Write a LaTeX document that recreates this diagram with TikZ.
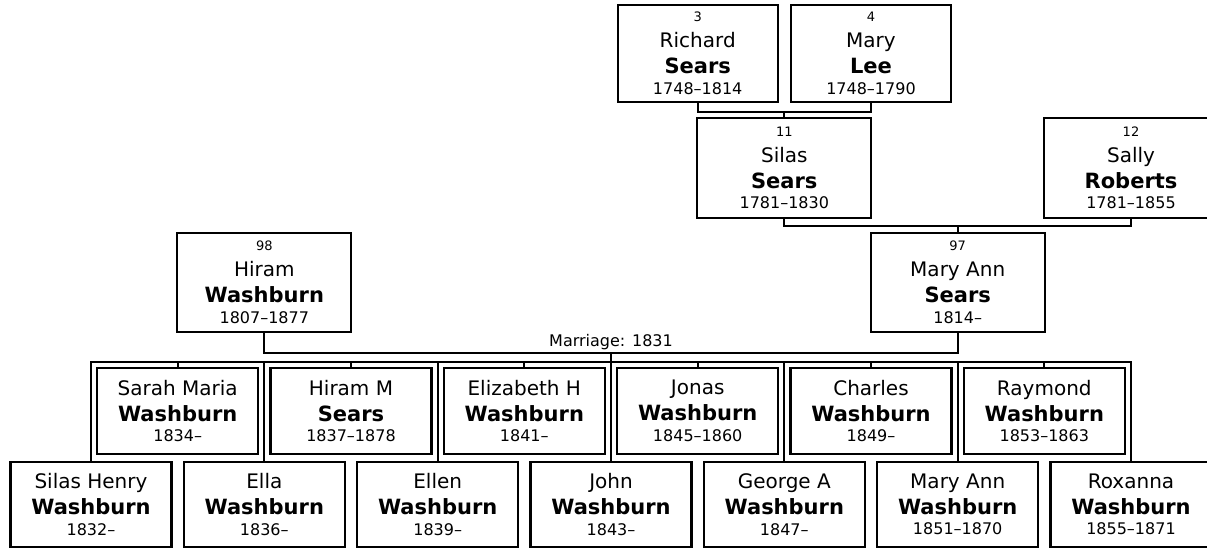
\documentclass[tikz,border=0pt]{standalone}
\usepackage{fontspec}
\setmainfont{DejaVu Sans}
\newcommand{\idno}[1]{{\fontsize{13}{13}\selectfont #1}}
\newcommand{\life}[1]{{\fontsize{16}{16}\selectfont #1}}
\newcommand{\sname}[1]{{\fontsize{21}{21}\selectfont\bfseries #1}}

\begin{document}
\begin{tikzpicture}[x=1pt,y=-1pt,font=\fontsize{20}{26}\selectfont,
 anc/.style={draw,line width=2.2pt,fill=white,align=center,inner sep=0pt,minimum width=174,minimum height=99},
 kid/.style={draw,line width=2.2pt,fill=white,align=center,inner sep=0pt,minimum width=161,minimum height=86},
 link/.style={line width=2.2pt}]
\path[use as bounding box,fill=white] (0,0) rectangle (1207,548);
% ancestors
\node[anc,minimum width=160,minimum height=97] (rich) at (697.7,53.5) {\idno{3}\\Richard\\\sname{Sears}\\[-5.5pt]\life{1748--1814}};
\node[anc,minimum width=160,minimum height=97] (lee) at (871,53.5) {\idno{4}\\Mary\\\sname{Lee}\\[-5.5pt]\life{1748--1790}};
\node[anc,minimum height=100] (silas) at (784.3,168) {\idno{11}\\Silas\\\sname{Sears}\\[-5.5pt]\life{1781--1830}};
\node[anc,minimum height=100] (sally) at (1131,168) {\idno{12}\\Sally\\\sname{Roberts}\\[-5.5pt]\life{1781--1855}};
\node[anc] (hiram) at (264.3,282.5) {\idno{98}\\Hiram\\\sname{Washburn}\\[-5.5pt]\life{1807--1877}};
\node[anc] (mann) at (957.7,282.5) {\idno{97}\\Mary Ann\\\sname{Sears}\\[-5.5pt]\life{1814--}};
% children, upper row
\node[kid] (sara) at (177.7,411) {Sarah Maria\\\sname{Washburn}\\[-5.5pt]\life{1834--}};
\node[kid] (hirm) at (351,411) {Hiram M\\\sname{Sears}\\[-5.5pt]\life{1837--1878}};
\node[kid] (eliz) at (524.3,411) {Elizabeth H\\\sname{Washburn}\\[-5.5pt]\life{1841--}};
\node[kid] (jona) at (697.7,411) {Jonas\\\sname{Washburn}\\[-5.5pt]\life{1845--1860}};
\node[kid] (char) at (871,411) {Charles\\\sname{Washburn}\\[-5.5pt]\life{1849--}};
\node[kid] (raym) at (1044.3,411) {Raymond\\\sname{Washburn}\\[-5.5pt]\life{1853--1863}};
% children, lower row
\node[kid,minimum height=85] (sil2) at (91,504.5) {Silas Henry\\\sname{Washburn}\\[-5.5pt]\life{1832--}};
\node[kid,minimum height=85] (ella) at (264.3,504.5) {Ella\\\sname{Washburn}\\[-5.5pt]\life{1836--}};
\node[kid,minimum height=85] (elln) at (437.7,504.5) {Ellen\\\sname{Washburn}\\[-5.5pt]\life{1839--}};
\node[kid,minimum height=85] (john) at (611,504.5) {John\\\sname{Washburn}\\[-5.5pt]\life{1843--}};
\node[kid,minimum height=85] (geor) at (784.3,504.5) {George A\\\sname{Washburn}\\[-5.5pt]\life{1847--}};
\node[kid,minimum height=85] (marw) at (957.7,504.5) {Mary Ann\\\sname{Washburn}\\[-5.5pt]\life{1851--1870}};
\node[kid,minimum height=85] (roxa) at (1131,504.5) {Roxanna\\\sname{Washburn}\\[-5.5pt]\life{1855--1871}};
% connectors
\coordinate (m1) at (silas.north |- 0,112);
\coordinate (m2) at (mann.north |- 0,225.7);
\coordinate (wed) at (john.north |- 0,353);
\coordinate (bus) at (john.north |- 0,362);
\draw[link] (rich.south) |- (m1) -| (lee.south);
\draw[link] (m1) -- (silas.north);
\draw[link] (silas.south) |- (m2) -| (sally.south);
\draw[link] (m2) -- (mann.north);
\draw[link] (hiram.south) |- (wed) -| (mann.south);
\node[anchor=south,inner sep=2.5pt,font=\fontsize{16}{16}\selectfont] (wedlbl) at (wed) {Marriage: 1831};
\draw[link] (wed) -- (bus);
\draw[link] (sil2.north) |- (bus) -| (roxa.north);
\draw[link] (sara.north) -- (sara.north |- bus) (hirm.north) -- (hirm.north |- bus)
 (eliz.north) -- (eliz.north |- bus) (jona.north) -- (jona.north |- bus)
 (char.north) -- (char.north |- bus) (raym.north) -- (raym.north |- bus)
 (ella.north) -- (ella.north |- bus) (elln.north) -- (elln.north |- bus)
 (john.north) -- (john.north |- bus) (geor.north) -- (geor.north |- bus)
 (marw.north) -- (marw.north |- bus);
\end{tikzpicture}
\end{document}
